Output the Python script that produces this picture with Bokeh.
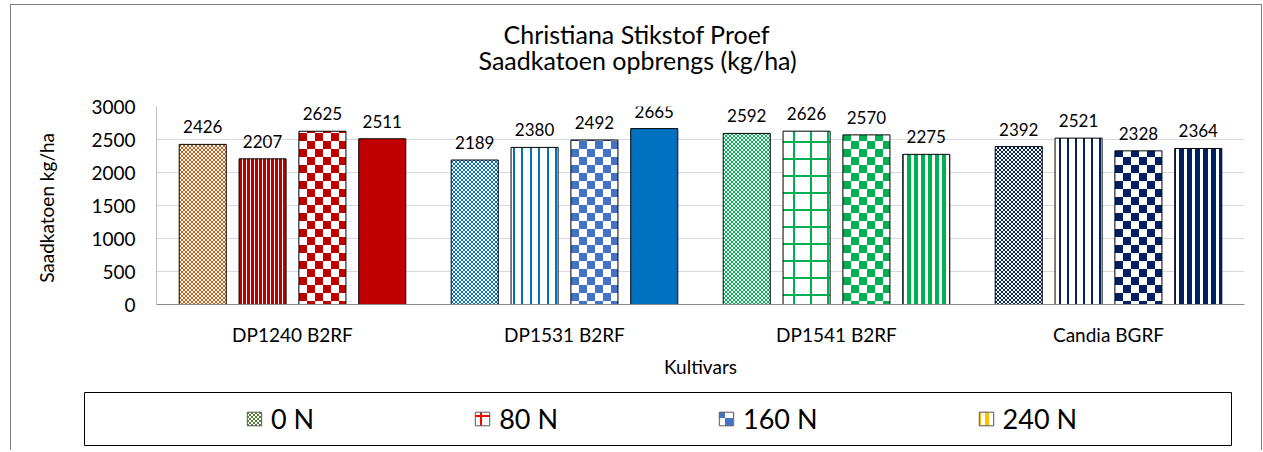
import base64
from bokeh.plotting import figure
from bokeh.models import (ColumnDataSource, FactorRange, Range1d, LabelSet, Title,
                          Legend, LegendItem, ImageURLTexture)
from bokeh.transform import dodge
from bokeh.layouts import column
from bokeh.core.properties import value
from bokeh.embed import file_html
from bokeh.resources import INLINE

# ---------------- data ----------------
cultivars = ["DP1240 B2RF", "DP1531 B2RF", "DP1541 B2RF", "Candia BGRF"]
levels = ["0 N", "80 N", "160 N", "240 N"]
yield_0n = [2426, 2189, 2592, 2392]
yield_80n = [2207, 2380, 2626, 2521]
yield_160n = [2625, 2492, 2570, 2328]
yield_240n = [2511, 2665, 2275, 2364]
y_ticks = [0, 500, 1000, 1500, 2000, 2500, 3000]
title_lines = ["Christiana Stikstof Proef", "Saadkatoen opbrengs (kg/ha)"]
x_title = "Kultivars"
y_title = "Saadkatoen  kg/ha"

series = [yield_0n, yield_80n, yield_160n, yield_240n]

# ---------------- styles ----------------
FONT = "Lato"
RED, BLUE, GREEN, NAVY = "#C00000", "#0070C0", "#00B050", "#002060"


def tile(w, h, shapes, bg="#FFFFFF"):
    body = f'<rect width="{w}" height="{h}" fill="{bg}"/>'
    for (x, y, rw, rh, c) in shapes:
        body += f'<rect x="{x}" y="{y}" width="{rw}" height="{rh}" fill="{c}"/>'
    svg = (f'<svg xmlns="http://www.w3.org/2000/svg" width="{w}" height="{h}" '
           f'shape-rendering="crispEdges">{body}</svg>')
    return ImageURLTexture(url="data:image/svg+xml;base64," + base64.b64encode(svg.encode()).decode())


def fine(c):
    return tile(4, 4, [(0, 0, 2, 2, c), (2, 2, 2, 2, c)])


def checker(c):
    return tile(16, 16, [(0, 0, 8, 8, c), (8, 8, 8, 8, c)])


def vstripe(c, period, w):
    return tile(period, 4, [(0, 0, w, 4, c)])


def vlines2(c):
    return tile(17, 4, [(0, 0, 2, 4, c), (8.5, 0, 2, 4, c)])


def grid(c):
    return tile(17, 17, [(0, 0, 2, 17, c), (0, 0, 17, 2, c)])


textures = {
    "fine_orange": fine("#C55A11"),
    "vs_red": tile(4, 4, [(0, 0, 2.6, 4, RED)]),
    "chk_red": checker(RED),
    "fine_blue": fine(BLUE),
    "vl_blue": vlines2(BLUE),
    "chk_blue": checker("#4472C4"),
    "fine_green": fine(GREEN),
    "grid_green": grid(GREEN),
    "chk_green": checker(GREEN),
    "vs_green": vstripe(GREEN, 7, 4),
    "fine_navy": fine(NAVY),
    "vl_navy": vstripe(NAVY, 8, 2),
    "chk_navy": checker(NAVY),
    "vs_navy": vstripe(NAVY, 8, 4.5),
    "leg_0": fine("#548235"),
    "leg_80": tile(18, 18, [(7, 0, 2, 18, "#FF0000"), (0, 5, 18, 2, "#FF0000")]),
    "leg_160": checker("#4472C4"),
    "leg_240": vstripe("#FFC000", 8, 4),
}

# pattern / fill per level (rows) and cultivar (columns)
patterns = [
    ["fine_orange", "fine_blue", "fine_green", "fine_navy"],
    ["vs_red", "vl_blue", "grid_green", "vl_navy"],
    ["chk_red", "chk_blue", "chk_green", "chk_navy"],
    [" ", " ", "vs_green", "vs_navy"],
]
fills = [
    ["#FFFFFF"] * 4,
    ["#FFFFFF"] * 4,
    ["#FFFFFF"] * 4,
    [RED, BLUE, "#FFFFFF", "#FFFFFF"],
]
offsets = [-0.33, -0.11, 0.11, 0.33]
BAR_W = 0.173


def no_align(fig):
    if "frame_align" in fig.properties():
        fig.frame_align = False


# ---------------- main figure ----------------
p = figure(x_range=FactorRange(factors=cultivars), y_range=Range1d(0, 3000),
           width=1250, height=375, output_backend="svg", toolbar_location=None,
           min_border_left=145, min_border_right=17, min_border_top=101, min_border_bottom=76)
no_align(p)
p.title.visible = False
p.outline_line_color = None
p.xgrid.grid_line_color = None
p.ygrid.grid_line_color = "#D9D9D9"
p.ygrid.grid_line_width = 1

for i, vals in enumerate(series):
    src = ColumnDataSource(dict(
        cultivar=cultivars, top=vals, label=[str(v) for v in vals],
        pat=patterns[i], fill=fills[i],
    ))
    p.vbar(x=dodge("cultivar", offsets[i], range=p.x_range), top="top", width=BAR_W,
           source=src, fill_color="fill", hatch_pattern="pat", hatch_extra=textures,
           line_color="#000000", line_width=1)
    p.add_layout(LabelSet(x=dodge("cultivar", offsets[i], range=p.x_range), y="top",
                          text="label", source=src, y_offset=11, text_align="center",
                          text_baseline="alphabetic", text_font=value(FONT),
                          text_font_size="17px", text_color="#000000"))

p.yaxis.ticker = y_ticks
p.yaxis.axis_line_color = "#BFBFBF"
p.xaxis.axis_line_color = "#8C8C8C"
for ax in (p.xaxis, p.yaxis):
    ax.major_tick_line_color = None
    ax.minor_tick_line_color = None
    ax.major_tick_out = 0
    ax.major_tick_in = 0
    ax.major_label_text_font = FONT
    ax.major_label_text_font_size = "19px"
    ax.major_label_text_color = "#000000"
    ax.axis_label_text_font = FONT
    ax.axis_label_text_font_size = "19px"
    ax.axis_label_text_font_style = "normal"
    ax.axis_label_text_color = "#000000"
p.yaxis.major_label_standoff = 21
p.xaxis.major_label_standoff = 18
p.yaxis.axis_label = y_title
p.yaxis.axis_label_standoff = 30
p.xaxis.axis_label = x_title
p.xaxis.axis_label_standoff = 6

# titles (first added sits closest to the plot)
p.add_layout(Title(text=" ", text_font_size="10px", standoff=19), "above")
p.add_layout(Title(text=title_lines[1], align="left", offset=322, text_font=FONT,
                   text_font_size="25px", text_font_style="normal", text_color="#000000",
                   standoff=0), "above")
p.add_layout(Title(text=title_lines[0], align="left", offset=347, text_font=FONT,
                   text_font_size="25px", text_font_style="normal", text_color="#000000",
                   standoff=-12), "above")

# ---------------- legend figure ----------------
leg = figure(width=1250, height=70, x_range=Range1d(0, 1), y_range=Range1d(0, 1),
             output_backend="svg", toolbar_location=None,
             x_axis_location=None, y_axis_location=None,
             min_border_left=73, min_border_right=30, min_border_top=12, min_border_bottom=5)
no_align(leg)
leg.title.visible = False
leg.xgrid.grid_line_color = None
leg.ygrid.grid_line_color = None
leg.outline_line_color = "#000000"
leg.outline_line_width = 1

leg_pats = ["leg_0", "leg_80", "leg_160", "leg_240"]
items = []
for lv, pt in zip(levels, leg_pats):
    s = ColumnDataSource(dict(x=[5], top=[0], pat=[pt], fill=["#FFFFFF"]))
    r = leg.vbar(x="x", top="top", width=0.1, source=s, fill_color="fill",
                 hatch_pattern="pat", hatch_extra=textures, line_color="#595959")
    items.append(LegendItem(label=lv, renderers=[r], index=0))

legend = Legend(items=items, orientation="horizontal", location=(161, 10),
                padding=0, margin=0, spacing=159, glyph_width=18, glyph_height=17,
                label_standoff=8, label_text_font=FONT, label_text_font_size="27px",
                label_text_color="#000000", border_line_color=None,
                background_fill_alpha=0)
leg.add_layout(legend)

layout = column(p, leg, spacing=0, margin=(4, 0, 0, 10),
                styles={"border-top": "1px solid #7F7F7F", "border-left": "1px solid #7F7F7F",
                        "border-right": "1px solid #7F7F7F"})

open("out.html", "w").write(file_html(layout, INLINE))
